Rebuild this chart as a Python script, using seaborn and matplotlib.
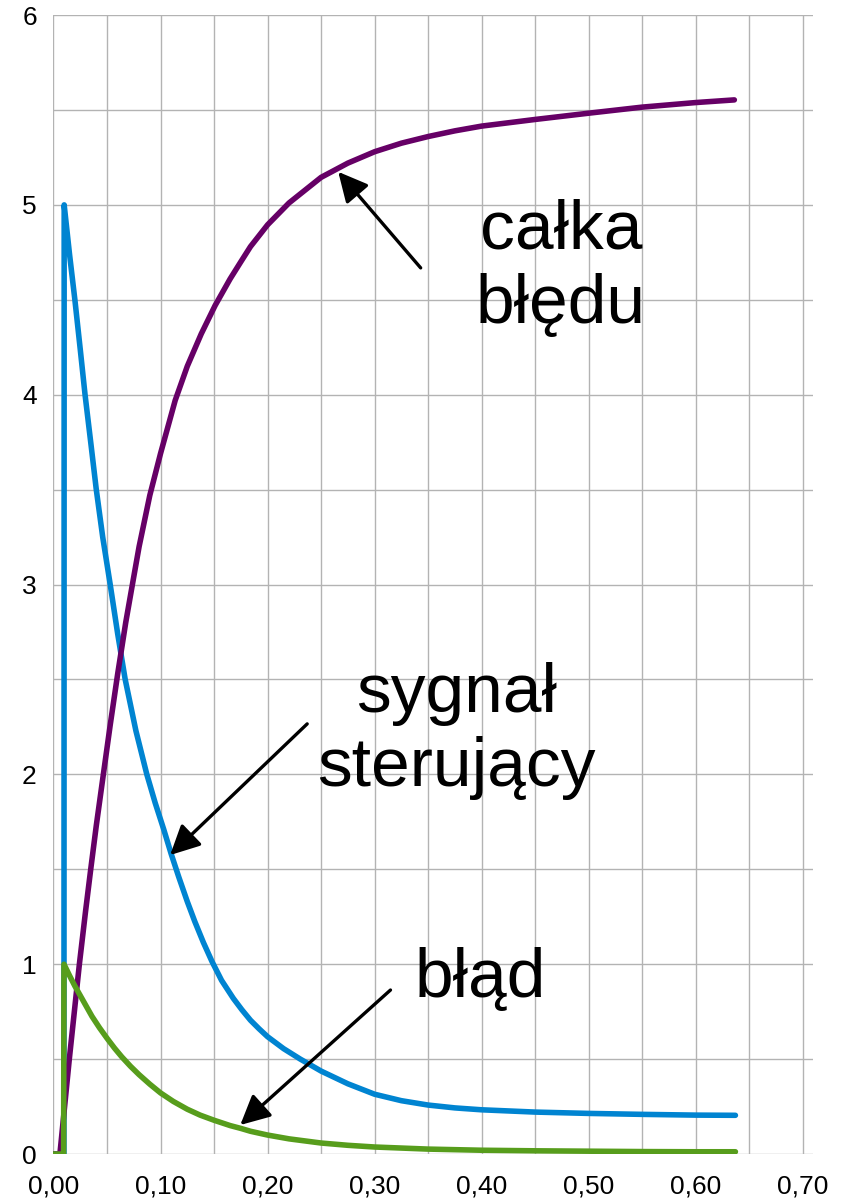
import numpy as np
import pandas as pd
import matplotlib
matplotlib.use("Agg")
import matplotlib.pyplot as plt
import seaborn as sns

# dane
t_sygnal = [0, 0.0098, 0.0100, 0.015, 0.020, 0.025, 0.0295, 0.035, 0.040, 0.046, 0.053,
            0.060, 0.067, 0.077, 0.0872, 0.095, 0.103, 0.110, 0.117, 0.125, 0.132,
            0.140, 0.148, 0.157, 0.168, 0.176, 0.184, 0.192, 0.200, 0.215, 0.2306,
            0.25, 0.275, 0.30, 0.325, 0.35, 0.375, 0.40, 0.45, 0.50, 0.55, 0.60, 0.637]
y_sygnal = [0, 0, 5.00, 4.74, 4.50, 4.24, 4.00, 3.74, 3.50, 3.25, 3.00,
            2.74, 2.50, 2.23, 2.00, 1.85, 1.71, 1.58, 1.46, 1.33, 1.225,
            1.115, 1.015, 0.915, 0.82, 0.76, 0.705, 0.66, 0.618, 0.555, 0.50,
            0.437, 0.37, 0.315, 0.281, 0.258, 0.243, 0.233, 0.221, 0.214, 0.209, 0.205, 0.204]

t_calka = [0, 0.006, 0.0148, 0.0242, 0.030, 0.0348, 0.040, 0.0466, 0.053, 0.060, 0.0675,
           0.0731, 0.080, 0.090, 0.100, 0.1137, 0.125, 0.138, 0.151, 0.165, 0.175,
           0.184, 0.20, 0.22, 0.25, 0.275, 0.30, 0.325, 0.35, 0.375, 0.40, 0.45,
           0.50, 0.55, 0.60, 0.636]
y_calka = [0, 0, 0.5, 1.0, 1.28, 1.5, 1.73, 2.0, 2.26, 2.53, 2.80,
           2.98, 3.2, 3.47, 3.69, 3.97, 4.15, 4.32, 4.47, 4.61, 4.70,
           4.78, 4.895, 5.01, 5.145, 5.22, 5.28, 5.325, 5.36, 5.39, 5.415, 5.45,
           5.483, 5.515, 5.539, 5.553]

t_blad = [0, 0.0095, 0.0098, 0.015, 0.020, 0.028, 0.036, 0.043, 0.050, 0.057, 0.0638,
          0.072, 0.080, 0.090, 0.100, 0.112, 0.125, 0.137, 0.150, 0.165, 0.175,
          0.184, 0.20, 0.22, 0.25, 0.275, 0.30, 0.35, 0.40, 0.45, 0.50, 0.55, 0.60, 0.637]
y_blad = [0, 0, 1.0, 0.94, 0.885, 0.805, 0.725, 0.665, 0.61, 0.558, 0.512,
          0.462, 0.418, 0.368, 0.322, 0.277, 0.236, 0.205, 0.178, 0.150, 0.135,
          0.12, 0.10, 0.08, 0.058, 0.046, 0.037, 0.026, 0.02, 0.017, 0.015, 0.013, 0.012, 0.012]

x_ticks = [0.0, 0.1, 0.2, 0.3, 0.4, 0.5, 0.6, 0.7]
x_tick_labels = ["0,00", "0,10", "0,20", "0,30", "0,40", "0,50", "0,60", "0,70"]
y_ticks = [0, 1, 2, 3, 4, 5, 6]
y_tick_labels = ["0", "1", "2", "3", "4", "5", "6"]

kolor_sygnal = "#0084d1"
kolor_calka = "#660066"
kolor_blad = "#579d1c"
kolor_siatki = "#b3b3b3"

sns.set_style("white")
plt.rcParams['font.family'] = ['Liberation Sans', 'DejaVu Sans']
plt.rcParams['text.color'] = 'black'

fig = plt.figure(figsize=(8.42, 12.03), dpi=100)
ax = fig.add_axes([0.0635, 0.0407, 0.9656 - 0.0635, 0.9875 - 0.0407])

df_s = pd.DataFrame({"t": t_sygnal, "v": y_sygnal})
df_c = pd.DataFrame({"t": t_calka, "v": y_calka})
df_b = pd.DataFrame({"t": t_blad, "v": y_blad})

lw = 4.0
for df, kolor, z in [(df_s, kolor_sygnal, 3), (df_c, kolor_calka, 4), (df_b, kolor_blad, 5)]:
    sns.lineplot(data=df, x="t", y="v", sort=False, estimator=None, color=kolor,
                 linewidth=lw, ax=ax, zorder=z, solid_joinstyle="round")

ax.set_xlim(0, 0.7095)
ax.set_ylim(0, 6)
ax.set_xticks(x_ticks)
ax.set_xticklabels(x_tick_labels)
ax.set_yticks(y_ticks)
ax.set_yticklabels(y_tick_labels)
ax.set_xticks(np.arange(0.05, 0.70, 0.1), minor=True)
ax.set_yticks(np.arange(0.5, 6, 1.0), minor=True)
ax.grid(True, which="both", color=kolor_siatki, linewidth=1.0, zorder=0)
ax.set_axisbelow(True)
ax.tick_params(axis="both", which="major", length=8, width=1.0, color=kolor_siatki,
               labelsize=19, labelcolor="black", direction="out")
ax.tick_params(axis="x", which="major", pad=7)
ax.tick_params(axis="y", which="major", pad=4)
ax.tick_params(which="minor", length=0)
ax.set_xlabel("")
ax.set_ylabel("")
for s in ["top", "right", "left", "bottom"]:
    ax.spines[s].set_visible(False)

# opisy
strzalka = dict(arrowstyle="-|>,head_length=0.6,head_width=0.3", mutation_scale=30,
                color="black", lw=2.4, shrinkA=0, shrinkB=0)
ax.annotate("", xy=(0.266, 5.174), xytext=(0.343, 4.668), arrowprops=strzalka, zorder=6)
ax.annotate("", xy=(0.109, 1.575), xytext=(0.237, 2.266), arrowprops=strzalka, zorder=6)
ax.annotate("", xy=(0.1745, 0.153), xytext=(0.3148, 0.864), arrowprops=strzalka, zorder=6)

ax.text(0.474, 4.668, "całka\nbłędu", fontsize=50, ha="center", va="center",
        multialignment="center", linespacing=1.2, color="black")
ax.text(0.3765, 2.229, "sygnał\nsterujący", fontsize=50, ha="center", va="center",
        multialignment="center", linespacing=1.2, color="black")
ax.text(0.399, 0.922, "błąd", fontsize=50, ha="center", va="center", color="black")

plt.savefig("out.png", dpi=100)
